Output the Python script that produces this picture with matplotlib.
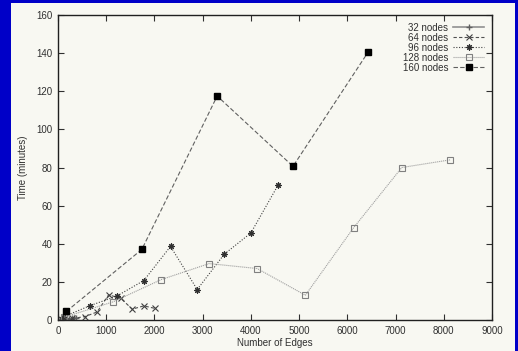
import matplotlib
matplotlib.use("Agg")
import matplotlib.pyplot as plt
from matplotlib.patches import Rectangle

# data
edges_32 = [40, 80, 130, 180, 230, 280, 330, 380]
time_32 = [0.2, 0.3, 0.4, 0.5, 0.6, 0.8, 0.9, 1.0]

edges_64 = [60, 300, 560, 810, 1050, 1300, 1540, 1780, 2010]
time_64 = [0.3, 0.8, 1.8, 4.2, 13.2, 11.4, 5.7, 7.4, 6.1]

edges_96 = [100, 660, 1215, 1780, 2333, 2887, 3447, 4001, 4569]
time_96 = [1.5, 7.5, 12.5, 20.7, 38.6, 16.0, 34.5, 45.7, 71.0]

edges_128 = [130, 1140, 2140, 3135, 4130, 5130, 6130, 7130, 8130]
time_128 = [1.5, 9.5, 21.2, 29.6, 27.0, 13.0, 48.4, 80.0, 84.0]

edges_160 = [174, 1738, 3301, 4873, 6430]
time_160 = [4.5, 37.0, 117.5, 80.6, 140.5]

xticks = list(range(0, 9001, 1000))
yticks = list(range(0, 161, 20))

plt.rcParams['font.family'] = ['Liberation Sans', 'DejaVu Sans']

fig = plt.figure(figsize=(5.18, 3.51), dpi=100)
fig.patch.set_facecolor('#0000c8')
# off-white panel inside the blue frame
panel = Rectangle((11 / 518, 0), 504 / 518, 348 / 351,
                  transform=fig.transFigure, facecolor='#f8f8f2',
                  edgecolor='none', zorder=-10)
fig.add_artist(panel)

ax = fig.add_axes([58 / 518, 1 - 320 / 351, 434 / 518, 305 / 351])
ax.set_zorder(5)
ax.set_facecolor('#f8f8f2')

lw = 0.8
ax.plot(edges_32, time_32, color='#909090', lw=1.2, ls='-',
        marker='+', ms=4, mec='#606060', label='32 nodes')
ax.plot(edges_64, time_64, color='#505050', lw=lw, ls=(0, (3, 2)),
        marker='x', ms=4, mec='#404040', mew=0.8, label='64 nodes')
ax.plot(edges_96, time_96, color='#404040', lw=lw, ls=(0, (1, 1.5)),
        marker=(8, 2, 0), ms=4.5, mec='#303030', mew=0.8, label='96 nodes')
ax.plot(edges_128, time_128, color='#a0a0a0', lw=lw, ls=(0, (1, 0.8)),
        marker='s', ms=4.5, mfc='none', mec='#808080', mew=0.8, label='128 nodes')
ax.plot(edges_160, time_160, color='#606060', lw=lw, ls=(0, (4, 2)),
        marker='s', ms=4.5, mfc='black', mec='black', label='160 nodes')

ax.set_xlim(0, 9000)
ax.set_ylim(0, 160)
ax.set_xticks(xticks)
ax.set_yticks(yticks)
ax.tick_params(direction='in', top=True, right=True, length=4, width=0.8,
               labelsize=7, colors='#303030', pad=4)
for s in ax.spines.values():
    s.set_linewidth(1.0)
    s.set_color('#202020')

ax.set_xlabel('Number of Edges', fontsize=7, color='#303030', labelpad=2)
ax.set_ylabel('Time (minutes)', fontsize=7, color='#303030', labelpad=6)

leg = ax.legend(loc='upper right', frameon=False, fontsize=7, markerfirst=False,
                handlelength=3.2, labelspacing=0.0, borderaxespad=0.4,
                handletextpad=0.5)
for t in leg.get_texts():
    t.set_color('#303030')

fig.savefig('out.png', dpi=100, facecolor=fig.get_facecolor())
